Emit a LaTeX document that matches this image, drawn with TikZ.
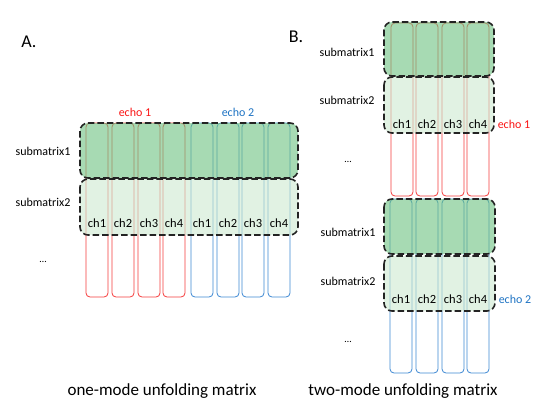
\documentclass[tikz,border=0pt]{standalone}
\usepackage{fontspec}
\setmainfont{Carlito}
\definecolor{dkgreen}{RGB}{108,193,128}
\definecolor{ltgreen}{RGB}{205,233,208}
\definecolor{colred}{RGB}{245,60,60}
\definecolor{colblue}{RGB}{60,135,210}
\definecolor{txtred}{RGB}{250,20,20}
\definecolor{txtblue}{RGB}{30,115,195}
\definecolor{edge}{RGB}{35,35,35}
\tikzset{
  redcol/.style={draw=colred,line width=0.8pt,rounded corners=4pt},
  bluecol/.style={draw=colblue,line width=0.8pt,rounded corners=4pt},
  subone/.style={fill=dkgreen,fill opacity=0.6,draw=edge,line width=1.6pt,dash pattern=on 6.5pt off 3pt,rounded corners=8pt},
  subtwo/.style={fill=ltgreen,fill opacity=0.6,draw=edge,line width=1.6pt,dash pattern=on 6.5pt off 3pt,rounded corners=8pt},
  lbl/.style={font=\fontsize{12}{14}\selectfont,inner sep=0pt},
  chl/.style={font=\fontsize{12.5}{14}\selectfont,inner sep=0pt},
  big/.style={font=\fontsize{17}{20}\selectfont,inner sep=0pt},
  panel/.style={font=\fontsize{18}{21}\selectfont,inner sep=0pt},
  dots/.style={font=\fontsize{10}{11}\selectfont,inner sep=0pt},
}
\begin{document}
\begin{tikzpicture}[x=1pt,y=-1pt]
\useasboundingbox (0,0) rectangle (554,420);
% ---------- Panel A ----------
\node[panel] (A) at (29,42) {A.};
\foreach \x [count=\i] in {86,112,138,163} {
  \draw[redcol] (\x,123) rectangle (\x+22,297);
}
\foreach \x [count=\i] in {191,217,242,268} {
  \draw[bluecol] (\x,123) rectangle (\x+22,297);
}
\draw[subone] (80,123) rectangle (298,178);
\draw[subtwo] (80,179) rectangle (298,235);
\foreach \x [count=\i] in {86,112,138,163} {
  \node[chl] (aRch\i) at (\x+11,223) {ch\i};
}
\foreach \x [count=\i] in {191,217,242,268} {
  \node[chl] (aBch\i) at (\x+11,223) {ch\i};
}
\node[lbl,text=txtred] (aecho1) at (135,112) {echo 1};
\node[lbl,text=txtblue] (aecho2) at (238,112) {echo 2};
\node[lbl] (asub1) at (43,151) {submatrix1};
\node[lbl] (asub2) at (43,202) {submatrix2};
\node[dots] (adots) at (43,262) {…};
\node[big] (acap) at (162,391) {one-mode unfolding matrix};
% ---------- Panel B ----------
\node[panel] (B) at (296,37) {B.};
% top group (echo 1)
\foreach \x in {391,416,442,467} {
  \draw[redcol] (\x,23) rectangle (\x+22,196);
}
\draw[subone] (384,22) rectangle (494,76);
\draw[subtwo] (384,77) rectangle (494,133);
\foreach \x [count=\i] in {391,416,442,467} {
  \node[chl] (bRch\i) at (\x+11,124) {ch\i};
}
\node[lbl,text=txtred] (becho1) at (514,124) {echo 1};
\node[lbl] (bsub1a) at (347,52) {submatrix1};
\node[lbl] (bsub2a) at (347,100) {submatrix2};
\node[dots] (bdotsa) at (348,162) {…};
% bottom group (echo 2)
\foreach \x in {390,416,442,467} {
  \draw[bluecol] (\x,199) rectangle (\x+22,373);
}
\draw[subone] (384,199) rectangle (495,254);
\draw[subtwo] (384,256) rectangle (495,311);
\foreach \x [count=\i] in {390,416,442,467} {
  \node[chl] (bBch\i) at (\x+11,299) {ch\i};
}
\node[lbl,text=txtblue] (becho2) at (515,299) {echo 2};
\node[lbl] (bsub1b) at (348,232) {submatrix1};
\node[lbl] (bsub2b) at (348,281) {submatrix2};
\node[dots] (bdotsb) at (348,342) {…};
\node[big] (bcap) at (403,391) {two-mode unfolding matrix};
\end{tikzpicture}
\end{document}
